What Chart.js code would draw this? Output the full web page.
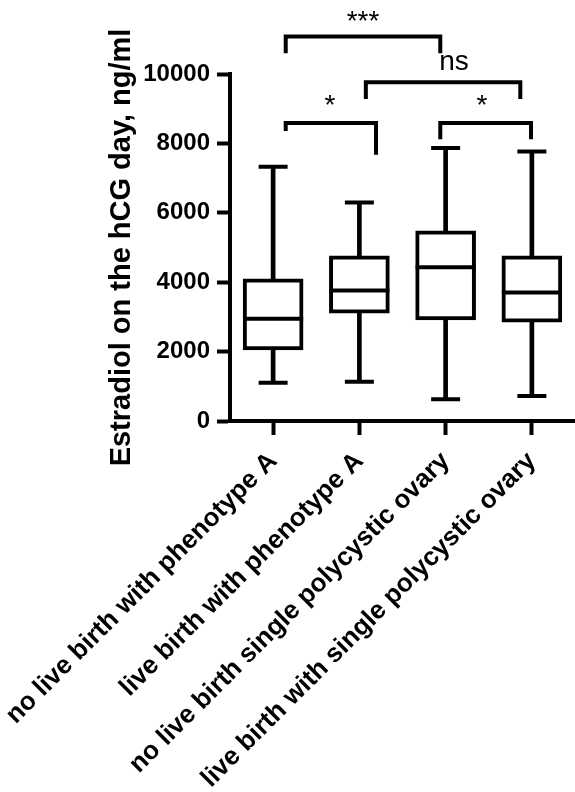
<!DOCTYPE html>
<html><head><meta charset="utf-8">
<script src="https://cdn.jsdelivr.net/npm/chart.js@4.4.1/dist/chart.umd.min.js"></script>
<style>html,body{margin:0;padding:0;background:#fff;} #wrap{width:575px;height:792px;position:relative;}</style>
</head><body><div id="wrap"><canvas id="c"></canvas></div>
<script>
const categories = ['no live birth with phenotype A', 'live birth with phenotype A', 'no live birth single polycystic ovary', 'live birth with single polycystic ovary'];
const whiskerMin = [1100, 1130, 630, 720];
const q1 = [2050, 3110, 2910, 2850];
const median = [2950, 3760, 4430, 3700];
const q3 = [4100, 4760, 5480, 4760];
const whiskerMax = [7330, 6300, 7870, 7770];
const yTicks = [0, 2000, 4000, 6000, 8000, 10000];
const yTitle = 'Estradiol on the hCG day, ng/ml';

// significance brackets: x in category-index units, y in ng/ml
const bracketLeft = [0.146, 1.075, 0.146, 1.938];
const bracketRight = [1.938, 2.866, 1.193, 2.990];
const bracketTop = [11080, 9760, 8590, 8590];
const bracketLegLeft = [10600, 9280, 8360, 8120];
const bracketLegRight = [10600, 9280, 7670, 8120];
const sigText = ['***', 'ns', '*', '*'];
const sigX = [1.042, 2.097, 0.659, 2.42];
const sigY = [11254, 10115, 8847, 8847];

const FONT = '"Liberation Sans", Arial, Helvetica, sans-serif';

const datasets = [
  { type: 'bar', data: categories.map((_, i) => [whiskerMin[i], whiskerMax[i]]), backgroundColor: '#000', borderWidth: 0, barThickness: 4, grouped: false, order: 5 },
  { type: 'bar', data: categories.map((_, i) => [q1[i], q3[i]]), backgroundColor: '#fff', borderColor: '#000', borderWidth: 4, borderSkipped: false, barThickness: 60, grouped: false, order: 4 },
  { type: 'line', data: median, showLine: false, pointStyle: 'line', pointRadius: 30, pointBorderWidth: 4, pointBorderColor: '#000', pointBackgroundColor: '#000', order: 3 },
  { type: 'line', data: whiskerMin, showLine: false, pointStyle: 'line', pointRadius: 14.5, pointBorderWidth: 4, pointBorderColor: '#000', order: 3 },
  { type: 'line', data: whiskerMax, showLine: false, pointStyle: 'line', pointRadius: 14.5, pointBorderWidth: 4, pointBorderColor: '#000', order: 3 }
];
bracketLeft.forEach((xl, i) => {
  datasets.push({
    type: 'line', xAxisID: 'xb', yAxisID: 'y', clip: false, order: 1,
    data: [
      { x: xl, y: bracketLegLeft[i] }, { x: xl, y: bracketTop[i] },
      { x: bracketRight[i], y: bracketTop[i] }, { x: bracketRight[i], y: bracketLegRight[i] }
    ],
    borderColor: '#000', borderWidth: 4, pointRadius: 0, fill: false, tension: 0,
    borderJoinStyle: 'miter', borderCapStyle: 'butt'
  });
});

const sigPlugin = {
  id: 'sig',
  afterDatasetsDraw(chart) {
    const ctx = chart.ctx, xs = chart.scales.xb, ys = chart.scales.y;
    ctx.save();
    ctx.fillStyle = '#000';
    ctx.textAlign = 'center';
    ctx.textBaseline = 'alphabetic';
    sigText.forEach((t, i) => {
      ctx.font = '28px ' + FONT;
      ctx.fillText(t, xs.getPixelForValue(sigX[i]), ys.getPixelForValue(sigY[i]));
    });
    ctx.restore();
  }
};

new Chart(document.getElementById('c'), {
  type: 'bar',
  data: { labels: categories, datasets },
  plugins: [sigPlugin],
  options: {
    responsive: true, maintainAspectRatio: false, animation: false, devicePixelRatio: 1,
    layout: { autoPadding: false, padding: { top: 74, right: 0, bottom: 0, left: 0 } },
    plugins: { legend: { display: false }, tooltip: { enabled: false } },
    scales: {
      x: {
        type: 'category', offset: true, position: 'bottom',
        grid: { display: true, drawOnChartArea: false, offset: false, tickLength: 14, tickWidth: 4, tickColor: '#000' },
        border: { display: true, color: '#000', width: 4 },
        ticks: { color: '#000', font: { family: FONT, size: 26, weight: 'bold' }, minRotation: 45, maxRotation: 45, autoSkip: false, padding: 11 },
        afterFit(s) { s.paddingLeft = 0; s.paddingRight = 0; s.height = 371; }
      },
      xb: { type: 'linear', display: false, position: 'bottom', min: -0.5, max: 3.5, offset: false, ticks: { display: false },
        afterFit(s) { s.paddingLeft = 0; s.paddingRight = 0; } },
      y: {
        min: 0, max: 10000,
        afterBuildTicks(s) { s.ticks = yTicks.map(v => ({ value: v })); },
        ticks: { color: '#000', font: { family: FONT, size: 24, weight: 'bold' }, padding: 7, callback: v => String(v) },
        grid: { display: true, drawOnChartArea: false, tickLength: 13, tickWidth: 4, tickColor: '#000' },
        border: { display: true, color: '#000', width: 4 },
        title: { display: true, text: yTitle, color: '#000', font: { family: FONT, size: 29, weight: 'bold' }, padding: { top: 105, bottom: 0 } },
        afterFit(s) { s.width = 230; }
      }
    }
  }
});
</script>
</body></html>
